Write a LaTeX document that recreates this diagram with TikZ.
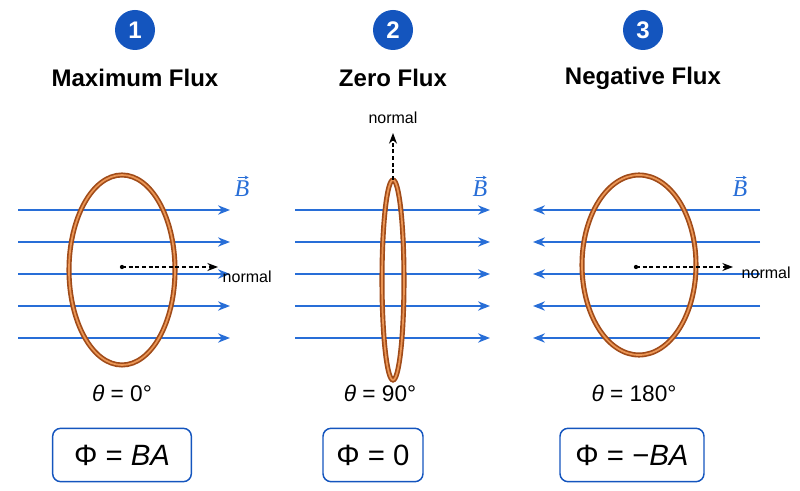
\documentclass[tikz,border=0pt]{standalone}
\usepackage{fontspec}
\setmainfont{Liberation Sans}
\newfontfamily\serifit{Liberation Serif}
\usetikzlibrary{arrows.meta}
\definecolor{fieldblue}{RGB}{40,110,215}
\definecolor{badgeblue}{RGB}{20,85,190}
\definecolor{copperdark}{RGB}{160,75,25}
\definecolor{copperlight}{RGB}{235,150,85}
\tikzset{
  fieldline/.style={fieldblue, line width=1.1pt, -{Stealth[length=9pt,width=7pt]}},
  normalarrow/.style={densely dashed, line width=0.9pt, -{Stealth[length=8pt,width=6pt]}},
  badge/.style={circle, fill=badgeblue, text=white, minimum size=30pt, inner sep=0pt, font=\bfseries\fontsize{18}{20}\selectfont},
  title/.style={font=\fontsize{18}{21}\selectfont\bfseries},
  label/.style={font=\fontsize{12}{14}\selectfont},
  angle/.style={font=\fontsize{17}{20}\selectfont},
  resultbox/.style={draw=badgeblue, line width=1.1pt, rounded corners=6pt, minimum height=40pt, font=\fontsize{22}{26}\selectfont},
  bvec/.style={fieldblue, inner sep=0pt, font=\serifit\itshape\fontsize{18}{20}\selectfont},
  vecarrow/.style={fieldblue, line width=0.7pt, -{Stealth[length=3pt,width=3pt]}}
}
\newcommand{\ring}[4]{% center x, center y, rx, ry
  \draw[copperdark, line width=3.8pt] (#1,#2) ellipse ({#3} and {#4});
  \draw[copperlight, line width=1.3pt] (#1,#2) ellipse ({#3} and {#4});
}
\begin{document}
\begin{tikzpicture}[x=0.75pt, y=-0.75pt]
  \useasboundingbox (0,0) rectangle (800,491);

  % Badges and titles
  \node[badge] (b1) at (135,30) {1};
  \node[badge] (b2) at (393,30) {2};
  \node[badge] (b3) at (643,30) {3};
  \node[title] (t1) at (135,78) {Maximum Flux};
  \node[title] (t2) at (393,78) {Zero Flux};
  \node[title] (t3) at (643,78) {Negative Flux};

  % Panel 1: field lines to the right
  \foreach \y in {210,242,274,306,338}
    \draw[fieldline] (18,\y) -- (230,\y);
  \ring{122}{270}{53}{95}
  \node[bvec] (B1) at (242,189) {B};
  \fill (122,267) circle (1.6pt) coordinate (c1);
  \coordinate (n1) at (218,267);
  \draw[normalarrow] (c1) -- (n1);
  \node[label, anchor=west] (l1) at (218,277) {normal};

  % Panel 2: loop seen edge-on
  \foreach \y in {210,242,274,306,338}
    \draw[fieldline] (295,\y) -- (490,\y);
  \ring{393}{280}{11}{100}
  \node[bvec] (B2) at (480,189) {B};
  \coordinate (c2) at (393,180);
  \coordinate (n2) at (393,133);
  \draw[normalarrow] (c2) -- (n2);
  \node[label] (l2) at (393,118) {normal};

  % Panel 3: field lines to the left
  \foreach \y in {210,242,274,306,338}
    \draw[fieldline] (760,\y) -- (533,\y);
  \ring{639}{265}{57}{90}
  \node[bvec] (B3) at (740,189) {B};
  \fill (636,267) circle (1.6pt) coordinate (c3);
  \coordinate (n3) at (733,267);
  \draw[normalarrow] (c3) -- (n3);
  \node[label, anchor=west] (l3) at (737,273) {normal};

  % Arrows over B
  \foreach \b in {B1,B2,B3}
    \draw[vecarrow] ([xshift=-3pt,yshift=2.5pt]\b.north) -- ([xshift=5pt,yshift=2.5pt]\b.north);

  % Angles and results
  \node[angle] (a1) at (122,393) {\textit{θ} = 0°};
  \node[angle] (a2) at (380,393) {\textit{θ} = 90°};
  \node[angle] (a3) at (634,393) {\textit{θ} = 180°};
  \node[resultbox, minimum width=104pt] (r1) at (122,455) {Φ = \textit{BA}};
  \node[resultbox, minimum width=75pt] (r2) at (373,455) {Φ = 0};
  \node[resultbox, minimum width=108pt] (r3) at (632,455) {Φ = −\textit{BA}};
\end{tikzpicture}
\end{document}
